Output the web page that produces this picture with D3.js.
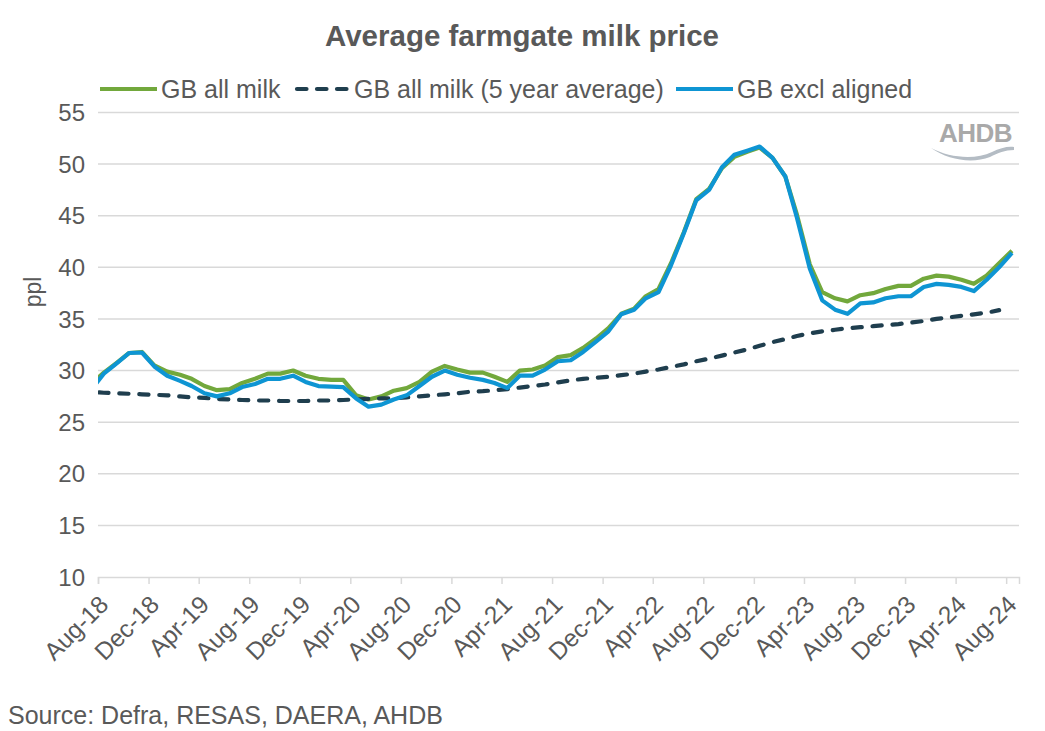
<!DOCTYPE html>
<html><head><meta charset="utf-8">
<script src="https://cdn.jsdelivr.net/npm/d3@7"></script>
<style>body{margin:0;background:#fff}svg{display:block;font-family:"Liberation Sans",Arial,sans-serif}</style>
</head><body>
<svg id="c" width="1045" height="731"></svg>
<script>
const months = ["Jul-18","Aug-18","Sep-18","Oct-18","Nov-18","Dec-18",
"Jan-19","Feb-19","Mar-19","Apr-19","May-19","Jun-19","Jul-19","Aug-19","Sep-19","Oct-19","Nov-19","Dec-19",
"Jan-20","Feb-20","Mar-20","Apr-20","May-20","Jun-20","Jul-20","Aug-20","Sep-20","Oct-20","Nov-20","Dec-20",
"Jan-21","Feb-21","Mar-21","Apr-21","May-21","Jun-21","Jul-21","Aug-21","Sep-21","Oct-21","Nov-21","Dec-21",
"Jan-22","Feb-22","Mar-22","Apr-22","May-22","Jun-22","Jul-22","Aug-22","Sep-22","Oct-22","Nov-22","Dec-22",
"Jan-23","Feb-23","Mar-23","Apr-23","May-23","Jun-23","Jul-23","Aug-23","Sep-23","Oct-23","Nov-23","Dec-23",
"Jan-24","Feb-24","Mar-24","Apr-24","May-24","Jun-24","Jul-24","Aug-24"];
const gbAllMilk = [28.7,29.8,30.75,31.7,31.8,30.5,29.9,29.6,29.2,28.5,
28.1,28.2,28.8,29.2,29.7,29.7,30.0,29.5,29.2,29.1,
29.1,27.6,27.2,27.5,28.05,28.3,28.9,29.9,30.45,30.1,
29.8,29.8,29.4,28.9,30.0,30.1,30.5,31.3,31.5,32.2,
33.1,34.1,35.5,36.0,37.2,37.9,40.4,43.4,46.6,47.6,
49.6,50.7,51.2,51.6,50.6,48.8,45.1,40.3,37.6,37.0,
36.7,37.3,37.5,37.9,38.2,38.2,38.9,39.2,39.1,38.8,
38.4,39.2,40.4,41.6];
const gbFiveYearAvg = [27.95,27.85,27.8,27.75,27.7,27.65,27.6,27.5,27.4,27.35,
27.25,27.2,27.15,27.1,27.1,27.05,27.05,27.05,27.1,27.1,
27.15,27.2,27.25,27.3,27.3,27.4,27.5,27.6,27.7,27.8,
27.95,28.0,28.1,28.2,28.35,28.5,28.65,28.85,29.05,29.2,
29.3,29.4,29.55,29.7,29.9,30.1,30.35,30.6,30.9,31.15,
31.45,31.75,32.05,32.4,32.75,33.05,33.35,33.6,33.8,33.95,
34.1,34.2,34.3,34.4,34.5,34.65,34.8,35.0,35.15,35.3,
35.45,35.6,35.85,null];
const gbExclAligned = [28.1,29.7,30.7,31.7,31.75,30.4,29.5,29.0,28.5,27.8,
27.5,27.8,28.4,28.7,29.2,29.2,29.5,28.9,28.5,28.45,
28.4,27.3,26.5,26.7,27.2,27.6,28.5,29.4,30.0,29.6,
29.3,29.1,28.8,28.3,29.5,29.5,30.1,30.9,31.0,31.8,
32.8,33.8,35.45,35.9,37.0,37.6,40.2,43.3,46.5,47.5,
49.7,50.9,51.3,51.7,50.6,48.8,44.8,39.9,36.8,35.9,
35.5,36.5,36.6,37.0,37.2,37.2,38.1,38.4,38.3,38.1,
37.7,38.8,40.0,41.4];
const tickLabels = ["Aug-18","Dec-18","Apr-19","Aug-19","Dec-19","Apr-20","Aug-20","Dec-20","Apr-21","Aug-21","Dec-21","Apr-22","Aug-22","Dec-22","Apr-23","Aug-23","Dec-23","Apr-24","Aug-24"];
const yTicks = [10,15,20,25,30,35,40,45,50,55];
const axisStart = "Aug-18", axisEnd = "Sep-24";

const parse = d3.timeParse("%b-%y");
const mid = s => d3.timeDay.offset(parse(s), 14);
const svg = d3.select("#c");
const L = 98, R = 1019, T = 112.5, B = 577;
const x = d3.scaleTime().domain([parse(axisStart), parse(axisEnd)]).range([L, R]);
const y = d3.scaleLinear().domain([10, 55]).range([B, T]);
const txt = "#595959";

// title
svg.append("text").attr("x", 522).attr("y", 46).attr("text-anchor", "middle")
  .attr("font-size", 29.5).attr("font-weight", "bold").attr("fill", txt).text("Average farmgate milk price");

// gridlines
svg.append("g").selectAll("line").data(yTicks.filter(d => d > 10)).join("line")
  .attr("x1", L).attr("x2", R).attr("y1", d => y(d)).attr("y2", d => y(d))
  .attr("stroke", "#d9d9d9").attr("stroke-width", 1.5);

// y axis labels
svg.append("g").selectAll("text").data(yTicks).join("text")
  .attr("x", 85).attr("y", d => y(d)).attr("dy", "0.36em").attr("text-anchor", "end")
  .attr("font-size", 24).attr("fill", txt).text(d => d);
svg.append("text").attr("transform", "translate(41,292) rotate(-90)").attr("text-anchor", "middle")
  .attr("font-size", 23).attr("fill", txt).text("ppl");

// x axis
const xa = svg.append("g").attr("transform", `translate(0,${B})`)
  .call(d3.axisBottom(x).tickValues(tickLabels.map(parse)).tickSize(7).tickFormat(""));
xa.select(".domain").attr("stroke", "#d9d9d9").attr("stroke-width", 1.5);
xa.selectAll(".tick line").attr("stroke", "#d9d9d9").attr("stroke-width", 1.5);
svg.append("g").selectAll("text").data(tickLabels).join("text")
  .attr("transform", d => `translate(${x(parse(d)) + 12},${B + 29}) rotate(-45)`)
  .attr("text-anchor", "end").attr("font-size", 24.5).attr("fill", txt).text(d => d);

// logo
const logo = svg.append("g");
logo.append("text").attr("x", 1012).attr("y", 142).attr("text-anchor", "end")
  .attr("font-size", 26).attr("font-weight", "bold").attr("fill", "#a9a9a9").attr("letter-spacing", -0.5).text("AHDB");
logo.append("path").attr("d", "M931,148 C950,158 975,160 992,152 C1000,148 1008,146 1014,147 L1014,150 C1005,150 998,153 990,157 C972,164 948,160 931,148 Z")
  .attr("fill", "#b4bcc4");

// clip
svg.append("clipPath").attr("id", "clip").append("rect").attr("x", L).attr("y", 0).attr("width", R - L).attr("height", 731);

const line = arr => d3.line().defined((d, i) => arr[i] != null)
  .x((d, i) => x(mid(months[i]))).y((d, i) => y(arr[i]))(months);

const g = svg.append("g").attr("clip-path", "url(#clip)");
g.append("path").attr("d", line(gbAllMilk)).attr("fill", "none").attr("stroke", "#72a83c")
  .attr("stroke-width", 4.2).attr("stroke-linejoin", "round");
g.append("path").attr("d", line(gbFiveYearAvg)).attr("fill", "none").attr("stroke", "#1f3e4e")
  .attr("stroke-width", 4.2).attr("stroke-dasharray", "9.2,10.8").attr("stroke-dashoffset", 11.6)
  .attr("stroke-linecap", "round").attr("stroke-linejoin", "round");
g.append("path").attr("d", line(gbExclAligned)).attr("fill", "none").attr("stroke", "#0e95d3")
  .attr("stroke-width", 4.2).attr("stroke-linejoin", "round");

// legend
const leg = [
  {label: "GB all milk", color: "#72a83c", dash: null, x: 100},
  {label: "GB all milk (5 year average)", color: "#1f3e4e", dash: "9.5,10.5", x: 297},
  {label: "GB excl aligned", color: "#0e95d3", dash: null, x: 676}
];
const lg = svg.append("g");
leg.forEach(d => {
  lg.append("line").attr("x1", d.x).attr("x2", d.x + (d.dash ? 51 : 57)).attr("y1", 89).attr("y2", 89)
    .attr("stroke", d.color).attr("stroke-width", 4.2)
    .attr("stroke-dasharray", d.dash).attr("stroke-linecap", d.dash ? "round" : "butt");
  lg.append("text").attr("x", d.x + (d.dash ? 57 : 61)).attr("y", 98).attr("font-size", 25).attr("fill", txt).text(d.label);
});

// source
svg.append("text").attr("x", 8).attr("y", 724).attr("font-size", 25).attr("fill", txt).text("Source: Defra, RESAS, DAERA, AHDB");
</script>
</body></html>
